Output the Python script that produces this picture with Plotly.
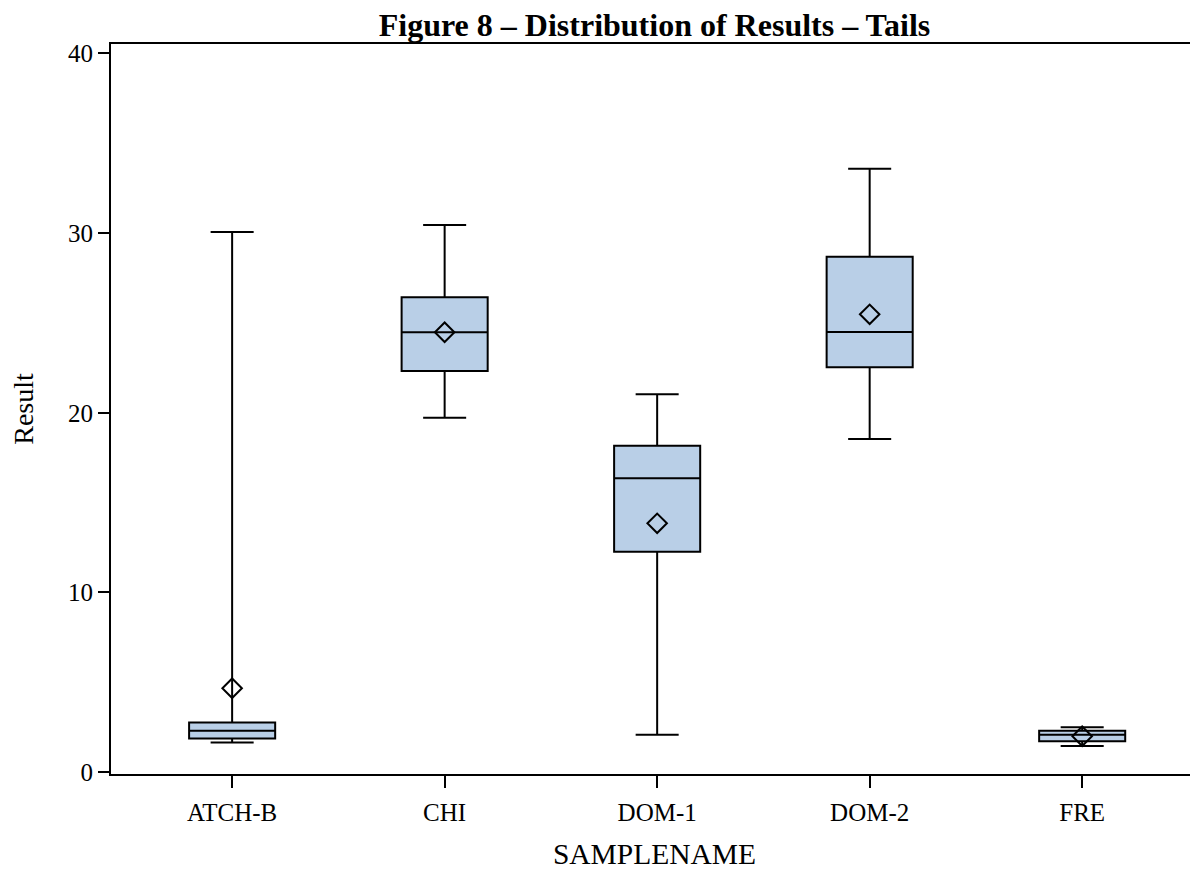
import plotly.graph_objects as go

categories = ["ATCH-B", "CHI", "DOM-1", "DOM-2", "FRE"]
lower_whisker = [1.65, 19.73, 2.08, 18.54, 1.46]
q1_values = [1.87, 22.33, 12.26, 22.53, 1.72]
median_values = [2.31, 24.48, 16.36, 24.50, 2.08]
q3_values = [2.76, 26.43, 18.17, 28.68, 2.30]
upper_whisker = [30.06, 30.45, 21.03, 33.58, 2.50]
mean_values = [4.67, 24.48, 13.85, 25.48, 2.00]
y_ticks = [0, 10, 20, 30, 40]

FONT = "Liberation Serif"

fig = go.Figure()
fig.add_trace(go.Box(
    x=categories,
    q1=q1_values,
    median=median_values,
    q3=q3_values,
    lowerfence=lower_whisker,
    upperfence=upper_whisker,
    fillcolor="#B9CFE7",
    line=dict(color="black", width=2),
    width=0.405,
    whiskerwidth=0.5,
    boxpoints=False,
    showlegend=False,
    hoverinfo="skip",
))
fig.add_trace(go.Scatter(
    x=categories,
    y=mean_values,
    mode="markers",
    marker=dict(symbol="diamond-open", size=15, color="black",
                line=dict(color="black", width=2)),
    showlegend=False,
    hoverinfo="skip",
))

fig.update_layout(
    width=1190,
    height=869,
    paper_bgcolor="white",
    plot_bgcolor="white",
    margin=dict(l=103, r=0, t=36, b=103),
    font=dict(family=FONT, color="black", size=25),
    title=dict(
        text="<b>Figure 8 – Distribution of Results – Tails</b>",
        font=dict(family=FONT, size=32, color="black"),
        x=0.5, xref="paper", xanchor="center",
        y=0.981, yref="container", yanchor="middle",
    ),
    xaxis=dict(
        type="category",
        range=[-0.57, 4.545],
        showgrid=False,
        zeroline=False,
        showline=True,
        linecolor="black",
        linewidth=2,
        mirror=True,
        ticks="outside",
        ticklen=12,
        tickwidth=2,
        tickcolor="black",
        ticklabelstandoff=3,
        tickfont=dict(family=FONT, size=25),
        title=dict(text="SAMPLENAME", font=dict(family=FONT, size=29.5), standoff=18),
    ),
    yaxis=dict(
        range=[-0.1, 40.52],
        tickvals=y_ticks,
        showgrid=False,
        zeroline=False,
        showline=True,
        linecolor="black",
        linewidth=2,
        mirror=False,
        ticks="outside",
        ticklen=11,
        tickwidth=2,
        tickcolor="black",
        tickfont=dict(family=FONT, size=25),
        title=dict(text="Result", font=dict(family=FONT, size=28), standoff=38),
    ),
)

fig.write_html("out.html")
